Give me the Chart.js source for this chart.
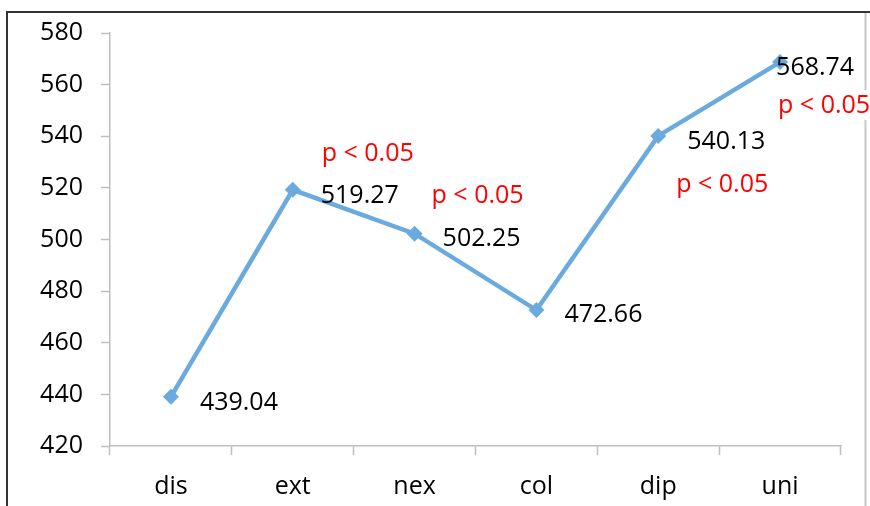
<html>
<head>
<title>Scores by condition</title>
<script src="https://cdn.jsdelivr.net/npm/chart.js@4.4.0/dist/chart.umd.min.js"></script>
<style>
    body { margin: 0; background: #fff; }
    canvas { display: block; }
</style>
</head>
<body>
<canvas id="line-chart" width="870" height="506"></canvas>
<script>
const categories = ['dis', 'ext', 'nex', 'col', 'dip', 'uni'];
const scores = [439.04, 519.27, 502.25, 472.66, 540.13, 568.74];
const pLabels = ['', 'p < 0.05', 'p < 0.05', '', 'p < 0.05', 'p < 0.05'];
const yMin = 420, yMax = 580, yStep = 20;

const FONT = '25px "Open Sans"';
const lineColor = '#6aaadf';

// where each value label / p label sits relative to its point
const valueOffsets = [[29, 4], [28, 4], [28, 3], [28, 3], [29, 4], [-4, 4]];
const noteOffsets = [null, [29, -38], [17, -40], null, [18, 47], [-2, 42]];

// frame around the whole chart
const frame = {
    id: 'frame',
    beforeDraw(chart) {
        const ctx = chart.ctx;
        ctx.save();
        ctx.lineWidth = 2;
        ctx.strokeStyle = '#c8c8c8';
        ctx.beginPath();
        ctx.moveTo(865.5, 12);
        ctx.lineTo(865.5, 506);
        ctx.stroke();
        ctx.strokeStyle = '#333';
        ctx.beginPath();
        ctx.moveTo(7, 506);
        ctx.lineTo(7, 12);
        ctx.lineTo(870, 12);
        ctx.stroke();
        ctx.restore();
    }
};

// numbers next to the points and the red significance notes
const pointLabels = {
    id: 'pointLabels',
    afterDatasetsDraw(chart) {
        const ctx = chart.ctx;
        const pts = chart.getDatasetMeta(0).data;
        ctx.save();
        ctx.font = FONT;
        ctx.textAlign = 'left';
        ctx.textBaseline = 'alphabetic';
        pts.forEach((p, i) => {
            const note = pLabels[i];
            if (note) {
                const [dx, dy] = noteOffsets[i];
                const w = ctx.measureText(note).width;
                ctx.fillStyle = '#fff';
                ctx.fillRect(p.x + dx - 2, p.y + dy - 14, w + 4, 30);
                ctx.fillStyle = '#ff0000';
                ctx.fillText(note, p.x + dx, p.y + dy + 9);
            }
        });
        pts.forEach((p, i) => {
            const [dx, dy] = valueOffsets[i];
            ctx.fillStyle = '#000';
            ctx.fillText(scores[i].toFixed(2), p.x + dx, p.y + dy + 9);
        });
        ctx.restore();
    }
};

new Chart(document.getElementById('line-chart'), {
    type: 'line',
    data: {
        labels: categories,
        datasets: [{
            data: scores,
            borderColor: lineColor,
            backgroundColor: lineColor,
            borderWidth: 4.5,
            pointStyle: 'rectRot',
            pointRadius: 8,
            pointBorderWidth: 0,
            tension: 0,
            fill: false
        }]
    },
    options: {
        responsive: false,
        animation: false,
        devicePixelRatio: 1,
        layout: { padding: { left: 0, right: 29, top: 30, bottom: 0 } },
        plugins: {
            legend: { display: false },
            tooltip: { enabled: false }
        },
        scales: {
            x: {
                offset: true,
                grid: {
                    offset: true,
                    drawOnChartArea: false,
                    tickLength: 9,
                    tickWidth: 1.5,
                    tickColor: '#bfbfbf'
                },
                border: { color: '#bfbfbf', width: 1.5 },
                ticks: {
                    color: '#000',
                    font: { family: 'Open Sans', size: 25 },
                    padding: 17,
                    maxRotation: 0
                },
                afterFit(scale) { scale.height = 60; }
            },
            y: {
                min: yMin,
                max: yMax,
                grid: {
                    drawOnChartArea: false,
                    tickLength: 9,
                    tickWidth: 1.5,
                    tickColor: '#bfbfbf'
                },
                border: { color: '#bfbfbf', width: 1.5 },
                ticks: {
                    stepSize: yStep,
                    color: '#000',
                    font: { family: 'Open Sans', size: 25 },
                    padding: 18
                },
                afterFit(scale) { scale.width = 110; }
            }
        }
    },
    plugins: [frame, pointLabels]
});
</script>
</body>
</html>
